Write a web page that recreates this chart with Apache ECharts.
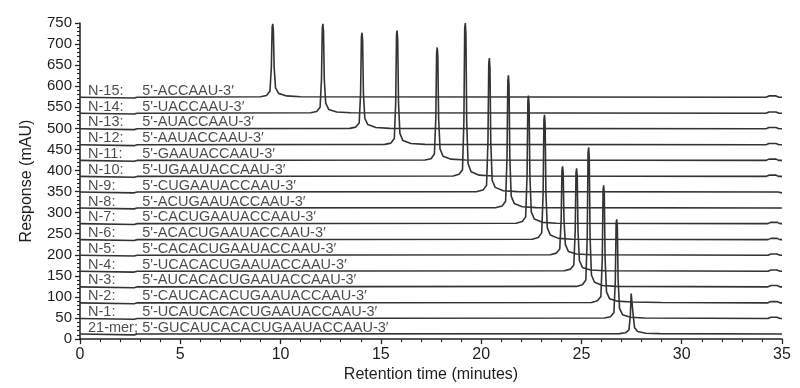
<!DOCTYPE html>
<html>
<head>
<meta charset="utf-8">
<script src="https://cdn.jsdelivr.net/npm/echarts@6/dist/echarts.min.js"></script>
<style>
html,body{margin:0;padding:0;background:#fff;}
#chart{width:800px;height:388px;}
</style>
</head>
<body>
<div id="chart"></div>
<script>
// Trace names (top to bottom in the figure order N-15 ... 21-mer)
var traceNames = ['N-15:','N-14:','N-13:','N-12:','N-11:','N-10:','N-9:','N-8:','N-7:','N-6:','N-5:','N-4:','N-3:','N-2:','N-1:','21-mer;'];
var sequences = [
  "5'-ACCAAU-3\u2032",
  "5'-UACCAAU-3\u2032",
  "5'-AUACCAAU-3\u2032",
  "5'-AAUACCAAU-3\u2032",
  "5'-GAAUACCAAU-3\u2032",
  "5'-UGAAUACCAAU-3\u2032",
  "5'-CUGAAUACCAAU-3\u2032",
  "5'-ACUGAAUACCAAU-3\u2032",
  "5'-CACUGAAUACCAAU-3\u2032",
  "5'-ACACUGAAUACCAAU-3\u2032",
  "5'-CACACUGAAUACCAAU-3\u2032",
  "5'-UCACACUGAAUACCAAU-3\u2032",
  "5'-AUCACACUGAAUACCAAU-3\u2032",
  "5'-CAUCACACUGAAUACCAAU-3\u2032",
  "5'-UCAUCACACUGAAUACCAAU-3\u2032",
  "5'-GUCAUCACACUGAAUACCAAU-3\u2032"
];
// vertical stacking offsets of each trace (mAU)
var baselines = [574, 536, 499, 461, 424, 386, 349, 311, 274, 236, 199, 161, 124, 86, 49, 12];

// chromatogram points [time (min), response above own baseline (mAU)]
var traceN15 = [[0,0],[2.7,-2],[2.85,0],[9.0,1],[9.3,4],[9.47,14],[9.54,70],[9.58,166],[9.61,174],[9.64,160],[9.68,70],[9.75,22],[9.9,9],[10.3,3],[11.0,1],[34.2,0],[34.35,3],[34.7,3],[34.85,0],[35,0]];
var traceN14 = [[0,0],[2.7,-2],[2.85,0],[11.5,1],[11.8,4],[11.97,14],[12.04,80],[12.08,202],[12.11,212],[12.14,195],[12.18,80],[12.25,24],[12.4,9],[12.8,3],[13.5,1],[34.2,0],[34.35,3],[34.7,3],[34.85,0],[35,0]];
var traceN13 = [[0,0],[2.7,-2],[2.85,0],[13.45,1],[13.75,4],[13.92,14],[13.99,85],[14.03,218],[14.06,228],[14.09,210],[14.13,85],[14.2,25],[14.35,10],[14.75,3],[15.45,1],[34.2,0],[34.35,3],[34.7,3],[34.85,0],[35,0]];
var traceN12 = [[0,0],[2.7,-2],[2.85,0],[15.2,1],[15.5,4],[15.67,15],[15.74,100],[15.78,260],[15.81,271],[15.84,250],[15.88,100],[15.95,27],[16.1,10],[16.5,3],[17.2,1],[34.2,0],[34.35,3],[34.7,3],[34.85,0],[35,0]];
var traceN11 = [[0,0],[2.7,-2],[2.85,0],[17.2,1],[17.5,4],[17.67,15],[17.74,100],[17.78,256],[17.81,268],[17.84,248],[17.88,100],[17.95,27],[18.1,10],[18.5,3],[19.2,1],[34.2,0],[34.35,3],[34.7,3],[34.85,0],[35,0]];
var traceN10 = [[0,0],[2.7,-2],[2.85,0],[18.6,1],[18.9,5],[19.07,16],[19.14,130],[19.18,350],[19.21,364],[19.24,340],[19.28,130],[19.35,30],[19.5,11],[19.9,3],[20.6,1],[34.2,0],[34.35,3],[34.7,3],[34.85,0],[35,0]];
var traceN9  = [[0,0],[2.7,-2],[2.85,0],[19.8,1],[20.1,5],[20.27,16],[20.34,120],[20.38,305],[20.41,318],[20.44,295],[20.48,120],[20.55,28],[20.7,11],[21.1,3],[21.8,1],[34.8,0],[35,-2]];
var traceN8  = [[0,0],[2.7,-2],[2.85,0],[20.75,1],[21.05,5],[21.22,16],[21.29,120],[21.33,302],[21.36,315],[21.39,292],[21.43,120],[21.5,28],[21.65,11],[22.05,3],[22.75,1],[35,0]];
var traceN7  = [[0,0],[2.7,-2],[2.85,0],[21.75,1],[22.05,5],[22.22,16],[22.29,115],[22.33,292],[22.36,304],[22.39,282],[22.43,115],[22.5,28],[22.65,11],[23.05,3],[23.75,1],[34.3,0],[34.45,3],[34.75,3],[34.9,0],[35,0]];
var traceN6  = [[0,0],[2.7,-2],[2.85,0],[22.55,1],[22.85,5],[23.02,16],[23.09,110],[23.13,284],[23.16,296],[23.19,275],[23.23,110],[23.3,28],[23.45,11],[23.85,3],[24.55,1],[34.3,0],[34.45,3],[34.75,3],[34.9,0],[35,0]];
var traceN5  = [[0,0],[2.7,-2],[2.85,0],[23.45,1],[23.75,5],[23.92,15],[23.99,85],[24.03,202],[24.06,211],[24.09,196],[24.13,85],[24.2,25],[24.35,9],[24.75,3],[25.45,1],[34.3,0],[34.45,3],[34.75,3],[34.9,0],[35,0]];
var traceN4  = [[0,0],[2.7,-2],[2.85,0],[24.15,1],[24.45,5],[24.62,15],[24.69,95],[24.73,234],[24.76,244],[24.79,226],[24.83,95],[24.9,25],[25.05,9],[25.45,3],[26.15,1],[34.3,0],[34.45,3],[34.75,3],[34.9,0],[35,0]];
var traceN3  = [[0,0],[2.7,-2],[2.85,0],[24.75,1],[25.05,5],[25.22,16],[25.29,120],[25.33,318],[25.36,331],[25.39,308],[25.43,120],[25.5,28],[25.65,11],[26.05,3],[26.75,1],[34.3,0],[34.45,3],[34.75,3],[34.9,0],[35,0]];
var traceN2  = [[0,0],[2.7,-2],[2.85,0],[25.5,1],[25.8,5],[25.97,15],[26.04,105],[26.08,268],[26.11,279],[26.14,260],[26.18,105],[26.25,26],[26.4,10],[26.8,4],[27.5,2],[29.0,1],[34.3,0],[34.45,3],[34.75,3],[34.9,0],[35,0]];
var traceN1  = [[0,0],[2.7,-2],[2.85,0],[26.15,1],[26.45,4],[26.62,14],[26.69,90],[26.73,226],[26.76,235],[26.79,218],[26.83,90],[26.9,24],[27.05,9],[27.45,3],[28.15,1],[34.3,0],[34.45,3],[34.75,3],[34.9,0],[35,0]];
var trace21mer = [[0,0],[2.7,-2],[2.85,0],[26.9,1],[27.2,3],[27.37,10],[27.44,45],[27.48,96],[27.51,100],[27.54,92],[27.58,45],[27.65,15],[27.8,6],[28.2,2],[28.9,1],[35,0]];

var traces = [traceN15,traceN14,traceN13,traceN12,traceN11,traceN10,traceN9,traceN8,traceN7,traceN6,traceN5,traceN4,traceN3,traceN2,traceN1,trace21mer];

// axis ticks
var xMin = 0, xMax = 35, xStep = 5;
var yMin = 0, yMax = 750, yStep = 50;
var nameColX = 0.4, seqColX = 3.1;

var FONT = "'Liberation Sans', Arial, sans-serif";
var series = [];
traces.forEach(function (tr, i) {
  series.push({
    type: 'line',
    name: traceNames[i],
    data: tr.map(function (p) { return [p[0], p[1] + baselines[i]]; }),
    showSymbol: false,
    symbol: 'none',
    smooth: false,
    lineStyle: { color: '#333333', width: 1.6 },
    z: 3,
    silent: true
  });
});
var labelStyle = { show: true, position: [0, -14], color: '#1e1e1e', fontSize: 14.5, fontFamily: FONT };
series.push({
  type: 'scatter', symbolSize: 0, silent: true, z: 4,
  data: baselines.map(function (b, i) { return { value: [nameColX, b], label: Object.assign({ formatter: traceNames[i] }, labelStyle) }; })
});
series.push({
  type: 'scatter', symbolSize: 0, silent: true, z: 4,
  data: baselines.map(function (b, i) { return { value: [seqColX, b], label: Object.assign({ formatter: sequences[i] }, labelStyle) }; })
});

var chart = echarts.init(document.getElementById('chart'), null, { renderer: 'canvas' });
chart.setOption({
  animation: false,
  backgroundColor: '#fff',
  grid: { left: 80, right: 18, top: 23, bottom: 44, containLabel: false },
  xAxis: {
    type: 'value', min: xMin, max: xMax, interval: xStep,
    name: 'Retention time (minutes)', nameLocation: 'middle', nameGap: 27,
    nameTextStyle: { fontSize: 16, color: '#1e1e1e', fontFamily: FONT },
    axisLine: { show: true, lineStyle: { color: '#222', width: 1.5 } },
    axisTick: { show: true, length: 5, lineStyle: { color: '#222', width: 1.3 } },
    minorTick: { show: true, splitNumber: 5, length: 3, lineStyle: { color: '#222', width: 1.1 } },
    axisLabel: { fontSize: 16, color: '#1e1e1e', margin: 7, fontFamily: FONT },
    splitLine: { show: false }
  },
  yAxis: {
    type: 'value', min: yMin, max: yMax, interval: yStep,
    name: 'Response (mAU)', nameLocation: 'middle', nameGap: 45, nameRotate: 90,
    nameTextStyle: { fontSize: 16, color: '#1e1e1e', fontFamily: FONT },
    axisLine: { show: true, lineStyle: { color: '#222', width: 1.5 } },
    axisTick: { show: true, length: 5, lineStyle: { color: '#222', width: 1.3 } },
    minorTick: { show: true, splitNumber: 5, length: 3, lineStyle: { color: '#222', width: 1.1 } },
    axisLabel: { fontSize: 15, color: '#1e1e1e', margin: 8, fontFamily: FONT },
    splitLine: { show: false }
  },
  series: series
});
</script>
</body>
</html>
